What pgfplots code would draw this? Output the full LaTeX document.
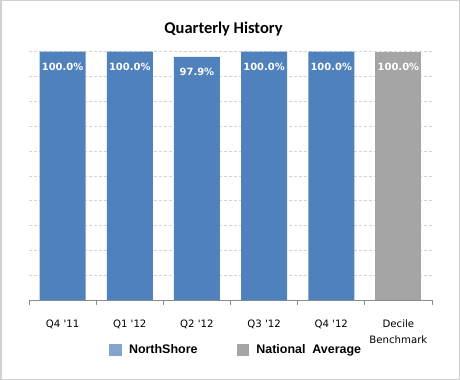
\documentclass[border=0pt]{standalone}
\usepackage{pgfplots}
\pgfplotsset{compat=1.18}
\usepackage{fontspec}
\setmainfont{DejaVu Sans}
\newfontfamily\dv{DejaVu Sans}
\newfontfamily\lib{Liberation Sans}
\newfontfamily\carl{Carlito}
\definecolor{barblue}{HTML}{4F81BD}
\definecolor{bargray}{HTML}{A5A5A5}
\definecolor{legblue}{HTML}{85A3CF}
\definecolor{gridc}{HTML}{D4D4D4}
\definecolor{framec}{HTML}{D0D0D0}
\definecolor{axisc}{HTML}{8C8C8C}
\begin{document}
\begin{tikzpicture}
\draw[framec, line width=1.5bp] (0.75bp,0.75bp) rectangle (459.25bp,379.25bp);
\begin{axis}[
  at={(29bp,80bp)}, anchor=south west,
  width=403bp, height=248.3bp, scale only axis,
  xmin=-0.5, xmax=5.5, ymin=0, ymax=100,
  clip=false,
  axis x line*=bottom, axis y line*=left,
  x axis line style={axisc, line width=0.8bp},
  y axis line style={draw=none},
  ytick={0,10,...,100}, yticklabels={},
  major y tick style={draw=none},
  ymajorgrids,
  major grid style={gridc, dash pattern=on 3bp off 2bp, line width=0.6bp},
  xtick={0,...,5},
  xticklabels={Q4 \textquotesingle 11, Q1 \textquotesingle 12, Q2 \textquotesingle 12, Q3 \textquotesingle 12, Q4 \textquotesingle 12, {Decile\\Benchmark}},
  major x tick style={draw=none},
  minor xtick={-0.5,0.5,...,5.5},
  minor x tick style={axisc, line width=0.8bp},
  minor tick length=4.5bp,
  tick align=outside,
  xticklabel style={font=\dv\fontsize{10.2}{16}\selectfont, align=center, anchor=north, yshift=-12bp, text=black},
  ybar, bar width=46bp, bar shift=0pt,
  nodes near coords={\pgfmathprintnumber[fixed,fixed zerofill,precision=1,assume math mode=true]{\pgfplotspointmeta}\%},
  every node near coord/.append style={anchor=center, yshift=-15bp, text=white, font=\dv\bfseries\fontsize{10}{12}\selectfont},
  title={Quarterly History},
  title style={at={(0.4826,1)}, anchor=center, yshift=16.7bp, font=\carl\bfseries\fontsize{16.5}{18}\selectfont},
  legend style={at={(0.514,-0.201)}, anchor=center, draw=none, fill=none,
    legend columns=2, font=\lib\bfseries\fontsize{12.5}{14}\selectfont,
    /tikz/every even column/.append style={column sep=37bp},
    legend cell align=left},
]
\addplot[fill=barblue, draw=none, forget plot] coordinates {(0,100) (1,100) (2,97.9) (3,100) (4,100)};
\addplot[fill=bargray, draw=none, forget plot] coordinates {(5,100)};
\addlegendimage{legend image code/.code={\fill[legblue] (0bp,-5.5bp) rectangle (11.5bp,5.5bp); \path (17.5bp,0bp);}}
\addlegendentry{NorthShore}
\addlegendimage{legend image code/.code={\fill[bargray] (0bp,-5.5bp) rectangle (11.5bp,5.5bp); \path (17.5bp,0bp);}}
\addlegendentry{National\ \ Average}
\end{axis}
\end{tikzpicture}
\end{document}
